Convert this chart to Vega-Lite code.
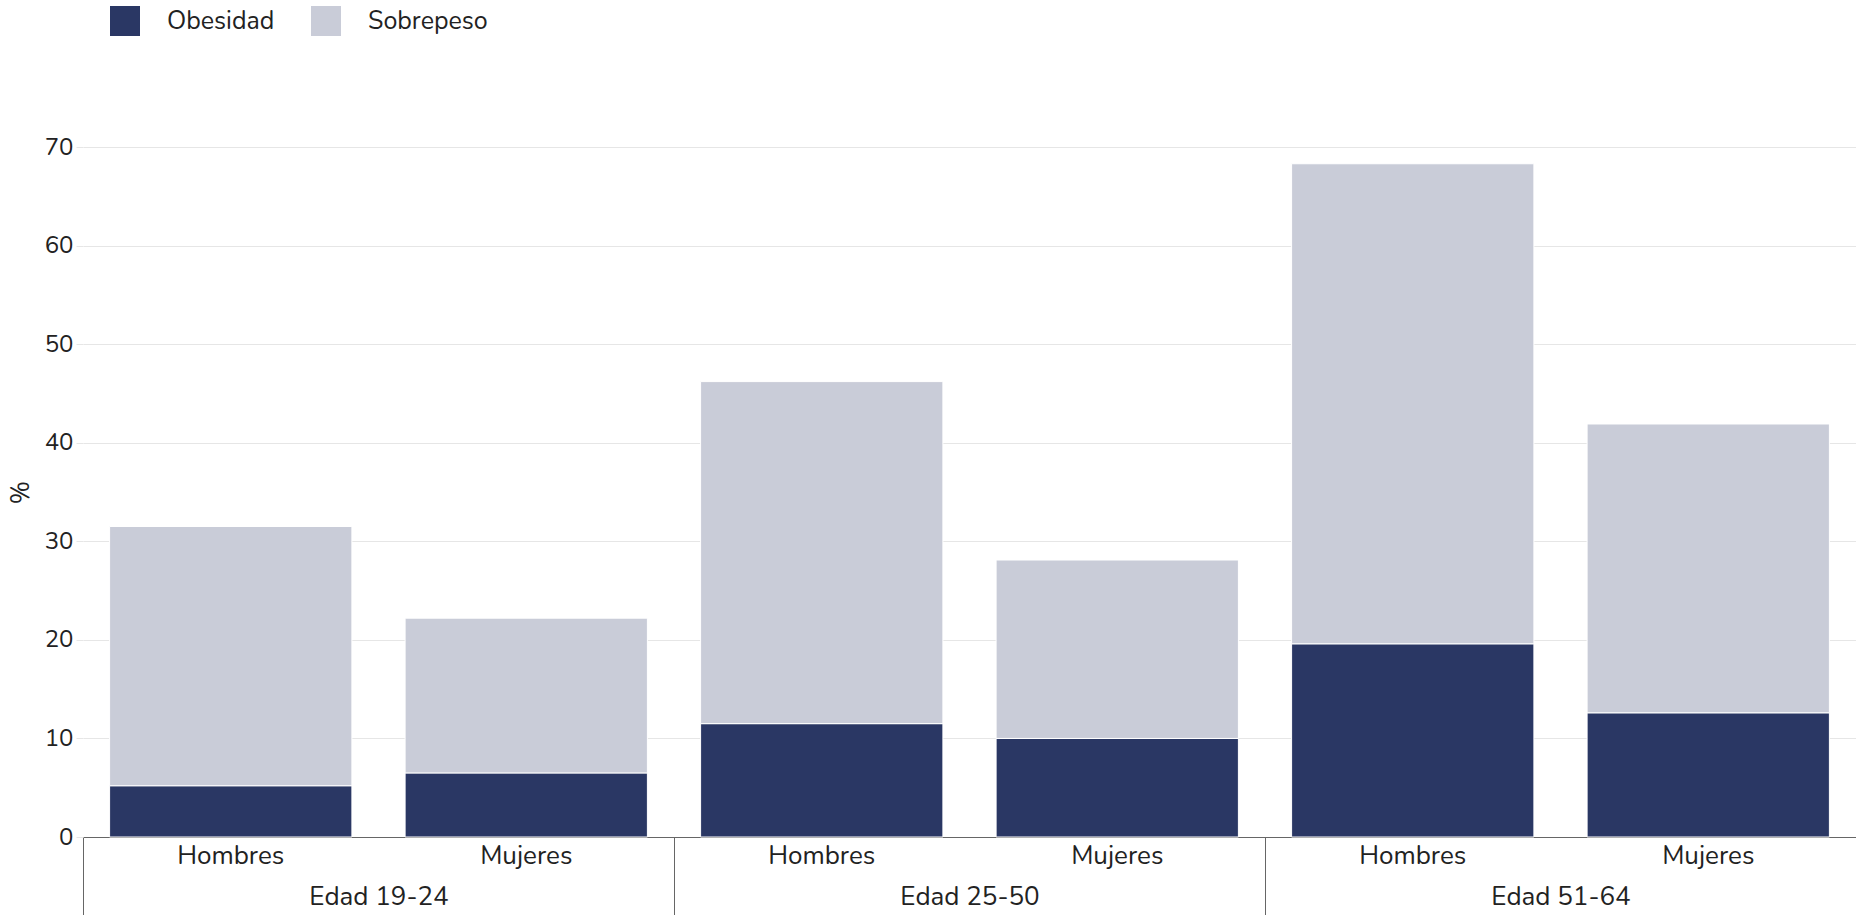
{
  "$schema": "https://vega.github.io/schema/vega-lite/v6.json",
  "width": 1773,
  "height": 690,
  "autosize": {"type": "none"},
  "padding": {"left": 83, "top": 147, "right": 0, "bottom": 78},
  "config": {
    "font": "Nunito, 'Open Sans', sans-serif",
    "view": {"stroke": null}
  },
  "data": {
    "values": [
      {"grupo": "Edad 19-24", "sexo": "Hombres", "clave": "Edad 19-24|Hombres", "serie": "Obesidad", "valor": 5.2},
      {"grupo": "Edad 19-24", "sexo": "Hombres", "clave": "Edad 19-24|Hombres", "serie": "Sobrepeso", "valor": 26.3},
      {"grupo": "Edad 19-24", "sexo": "Mujeres", "clave": "Edad 19-24|Mujeres", "serie": "Obesidad", "valor": 6.5},
      {"grupo": "Edad 19-24", "sexo": "Mujeres", "clave": "Edad 19-24|Mujeres", "serie": "Sobrepeso", "valor": 15.7},
      {"grupo": "Edad 25-50", "sexo": "Hombres", "clave": "Edad 25-50|Hombres", "serie": "Obesidad", "valor": 11.5},
      {"grupo": "Edad 25-50", "sexo": "Hombres", "clave": "Edad 25-50|Hombres", "serie": "Sobrepeso", "valor": 34.7},
      {"grupo": "Edad 25-50", "sexo": "Mujeres", "clave": "Edad 25-50|Mujeres", "serie": "Obesidad", "valor": 10.0},
      {"grupo": "Edad 25-50", "sexo": "Mujeres", "clave": "Edad 25-50|Mujeres", "serie": "Sobrepeso", "valor": 18.1},
      {"grupo": "Edad 51-64", "sexo": "Hombres", "clave": "Edad 51-64|Hombres", "serie": "Obesidad", "valor": 19.6},
      {"grupo": "Edad 51-64", "sexo": "Hombres", "clave": "Edad 51-64|Hombres", "serie": "Sobrepeso", "valor": 48.7},
      {"grupo": "Edad 51-64", "sexo": "Mujeres", "clave": "Edad 51-64|Mujeres", "serie": "Obesidad", "valor": 12.6},
      {"grupo": "Edad 51-64", "sexo": "Mujeres", "clave": "Edad 51-64|Mujeres", "serie": "Sobrepeso", "valor": 29.3}
    ]
  },
  "layer": [
    {
      "mark": {"type": "bar", "stroke": "#ffffff", "strokeWidth": 1},
      "encoding": {
        "x": {
          "field": "clave",
          "type": "nominal",
          "sort": null,
          "scale": {"type": "band", "paddingInner": 0.18, "paddingOuter": 0.09},
          "axis": {
            "orient": "bottom",
            "title": null,
            "labelExpr": "split(datum.label, '|')[1]",
            "labelAngle": 0,
            "domain": false,
            "ticks": false,
            "grid": false,
            "labelPadding": 5,
            "labelFontSize": 26,
            "labelColor": "#222222"
          }
        },
        "y": {
          "field": "valor",
          "type": "quantitative",
          "stack": "zero",
          "scale": {"domain": [0, 70], "nice": false},
          "axis": {
            "title": "%",
            "titleFontSize": 25,
            "titleFontWeight": "normal",
            "titleColor": "#222222",
            "titlePadding": 11,
            "values": [0, 10, 20, 30, 40, 50, 60, 70],
            "grid": true,
            "gridColor": "#e6e6e6",
            "gridWidth": 1,
            "domain": false,
            "tickColor": "#e6e6e6",
            "tickSize": 7,
            "labelPadding": 3,
            "labelFontSize": 24,
            "labelColor": "#222222"
          }
        },
        "color": {
          "field": "serie",
          "type": "nominal",
          "scale": {"domain": ["Obesidad", "Sobrepeso"], "range": ["#2a3764", "#c9ccd8"]},
          "legend": {
            "orient": "none",
            "legendX": 27,
            "legendY": -141,
            "direction": "horizontal",
            "title": null,
            "symbolType": "square",
            "symbolSize": 900,
            "symbolStrokeWidth": 0,
            "symbolOpacity": 1,
            "labelFontSize": 25,
            "labelColor": "#222222",
            "labelOffset": 27,
            "columnPadding": 36,
            "padding": 0
          }
        },
        "order": {"field": "serie", "sort": "ascending"}
      }
    },
    {
      "mark": {"type": "rule", "opacity": 0},
      "encoding": {
        "x": {
          "field": "grupo",
          "type": "nominal",
          "sort": null,
          "scale": {"type": "band", "paddingInner": 0, "paddingOuter": 0},
          "axis": {
            "orient": "bottom",
            "title": null,
            "labelAngle": 0,
            "domain": true,
            "domainColor": "#666666",
            "domainWidth": 1,
            "ticks": true,
            "tickBand": "extent",
            "tickSize": 78,
            "tickColor": "#666666",
            "tickWidth": 1,
            "grid": false,
            "labelPadding": -32,
            "labelFontSize": 26,
            "labelColor": "#222222"
          }
        }
      }
    }
  ],
  "resolve": {"scale": {"x": "independent"}, "axis": {"x": "independent"}}
}
